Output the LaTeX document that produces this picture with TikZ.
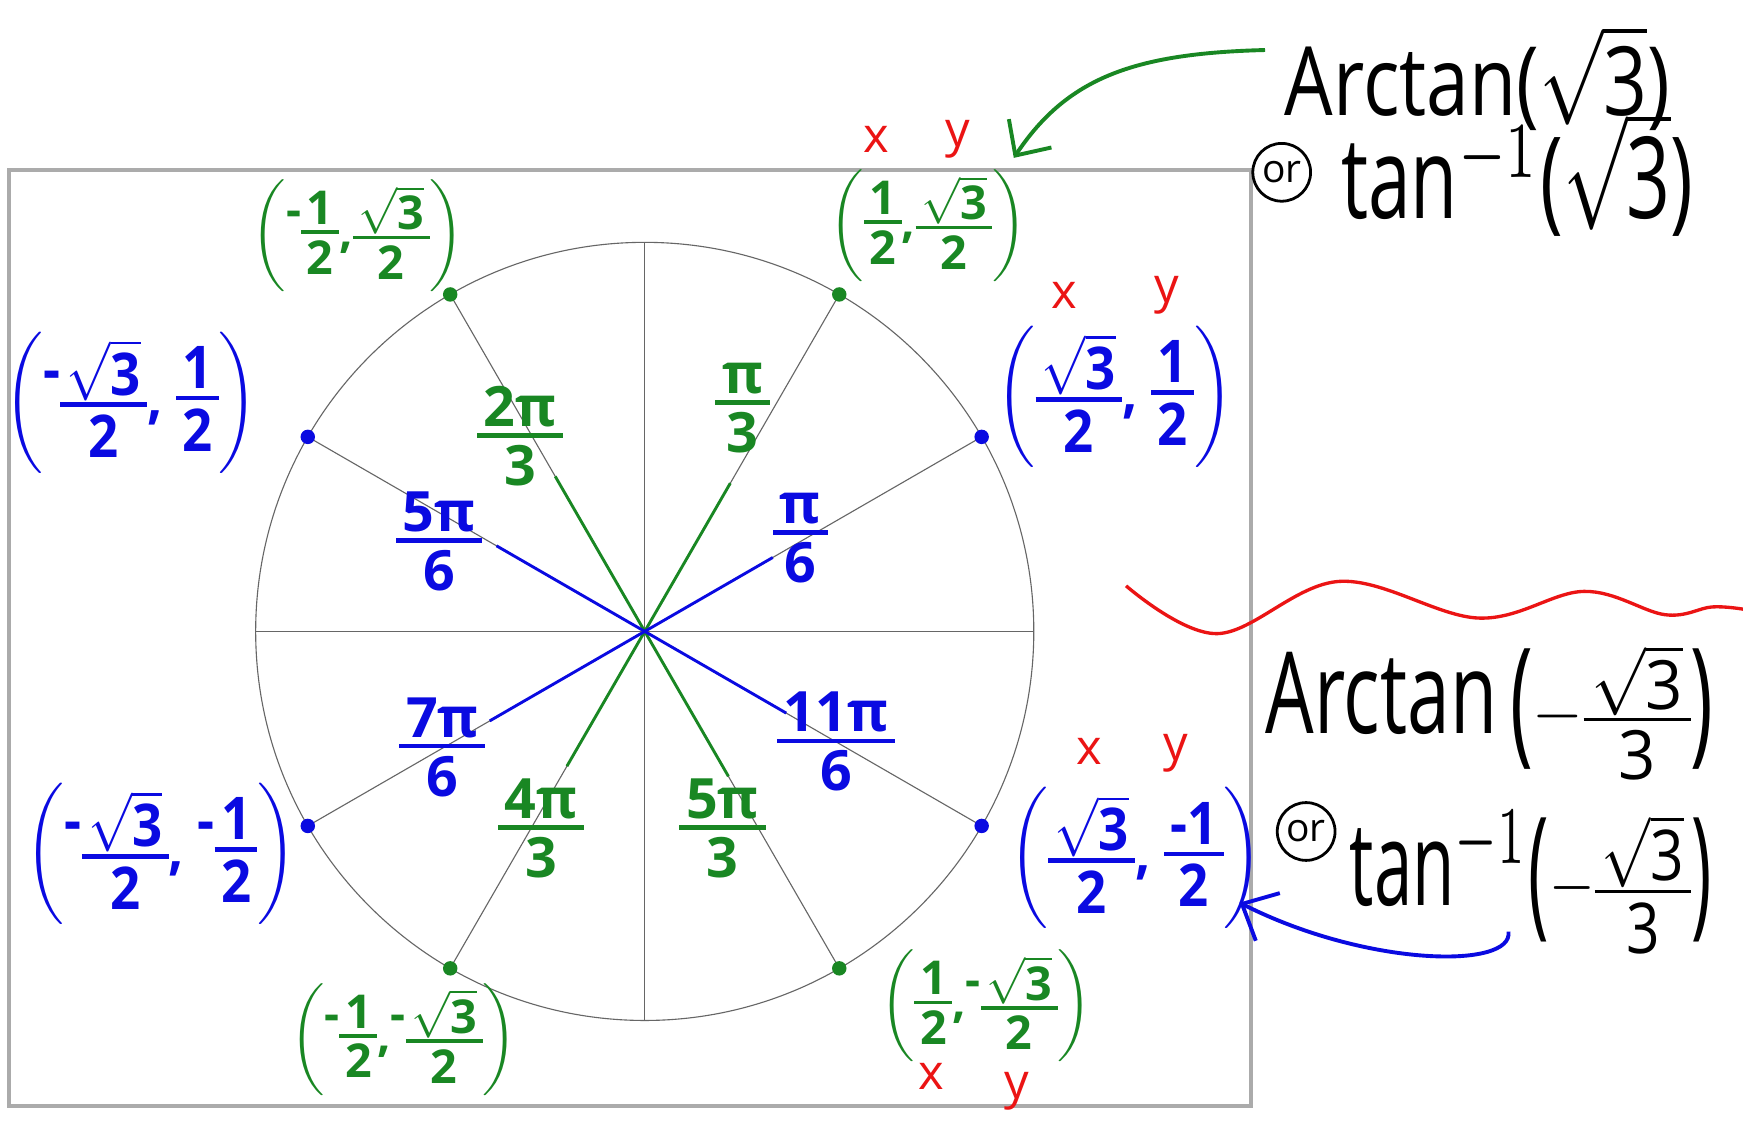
\documentclass[tikz,border=0pt]{standalone}
\usepackage{amsmath}
\usepackage{fontspec}
\setmainfont{Open Sans}
\usepackage{graphicx}
\usetikzlibrary{arrows.meta,calc}
\definecolor{hg}{RGB}{25,135,35}
\definecolor{hb}{RGB}{10,10,225}
\definecolor{hr}{RGB}{235,20,20}
\def\hfrw{0.8pt}
\newcommand\hf[2]{\vcenter{\hbox{\setlength\tabcolsep{1.2pt}\setlength\arrayrulewidth{\hfrw}\renewcommand\arraystretch{0.35}\begin{tabular}{c}#1\\\hline\rule{0pt}{8.6pt}#2\end{tabular}}}}
\newcommand\rt{$\sqrt{\mbox{3}}$}
\newcommand\mn{\raisebox{4.5pt}{-}}
\newcommand\lp{\raisebox{-1.2pt}{\scalebox{1}[1.22]{(}}}
\newcommand\rp{\raisebox{-1.2pt}{\scalebox{1}[1.22]{)}}}
\tikzset{
  ax/.style={draw=black!60, line width=1pt},
  frame/.style={draw=black!33, line width=3.5pt},
  gseg/.style={draw=hg, line width=2.6pt},
  bseg/.style={draw=hb, line width=2.6pt},
  angg/.style={text=hg, inner sep=0pt},
  angb/.style={text=hb, inner sep=0pt},
  crdg/.style={text=hg, inner sep=0pt},
  crdb/.style={text=hb, inner sep=0pt},
  xy/.style={text=hr, inner sep=0pt},
  big/.style={text=black, inner sep=0pt, anchor=base},
  orc/.style={draw=black, line width=2.5pt, circle, minimum size=52pt, inner sep=0pt},
}
\newcommand\AN[1]{\scalebox{5}{\bfseries #1}}
\newcommand\CG[1]{\scalebox{4.2}{\bfseries #1}}
\newcommand\CB[1]{\scalebox{4.75}[5.3]{\bfseries #1}}
\newcommand\XY[1]{\scalebox{4.4}{#1}}
\newcommand\BGa[1]{\scalebox{6.9}[10.2]{\def\hfrw{0.45pt}#1}}
\newcommand\BGt[1]{\scalebox{6.9}[8.6]{\def\hfrw{0.45pt}#1}}
\newcommand\BGb[1]{\scalebox{6.2}[10.5]{\def\hfrw{0.45pt}#1}}
\newcommand\fr{\scalebox{0.85}[0.6]{$-\hf{\rt}{3}$}}
\begin{document}
\begin{tikzpicture}[x=1pt,y=-1pt]
\useasboundingbox (0,0) rectangle (1568,1015);
\fill[white] (0,0) rectangle (1568,1015);

\coordinate (O) at (580,568);
\foreach \a in {0,30,...,330} \coordinate (p\a) at ({580+350*cos(\a)},{568-350*sin(\a)});

\draw[frame] (8,153) rectangle (1125,995);
\draw[ax] (O) circle[radius=350pt];
\draw[ax] (p0) -- (p180);
\draw[ax] (p90) -- (p270);
\foreach \a in {30,60,120,150,210,240,300,330} \draw[ax] (O) -- (p\a);

\foreach \a/\f in {60/0.44,120/0.46,240/0.40,300/0.43} \draw[gseg] (O) -- ($(O)!\f!(p\a)$);
\foreach \a/\f in {30/0.38,150/0.44,210/0.46,330/0.42} \draw[bseg] (O) -- ($(O)!\f!(p\a)$);

\foreach \a in {60,120,240,300} \fill[hg] (p\a) circle[radius=6.5pt];
\foreach \a in {30,150,210,330} \fill[hb] (p\a) circle[radius=6.5pt];

% angle labels
\node[angg] (a60)  at (668,370) {\AN{$\hf{π}{3}$}};
\node[angg] (a120) at (468,395) {\AN{$\hf{2π}{3}$}};
\node[angb] (a30)  at (720,487) {\AN{$\hf{π}{6}$}};
\node[angb] (a150) at (395,490) {\AN{$\hf{5π}{6}$}};
\node[angb] (a210) at (398,675) {\AN{$\hf{7π}{6}$}};
\node[angb] (a330) at (752,670) {\AN{$\hf{11π}{6}$}};
\node[angg] (a240) at (487,748) {\AN{$\hf{4π}{3}$}};
\node[angg] (a300) at (650,748) {\AN{$\hf{5π}{3}$}};

% coordinate labels
\node[crdg] (c60)  at (835,203) {\CG{$\left(\hf{1}{2}\mbox{,}\hf{\rt}{2}\right)$}};
\node[crdg] (c120) at (322,212) {\CG{$\left(\mn\hf{1}{2}\mbox{,}\hf{\rt}{2}\right)$}};
\node[crdb] (c150) at (118,362) {\CB{$\left(\mn\hf{\rt}{2}\mbox{, }\hf{1}{2}\right)$}};
\node[crdb] (c30)  at (1003,357) {\CB{$\left(\hf{\rt}{2}\mbox{, }\hf{1}{2}\right)$}};
\node[crdb] (c210) at (145,768) {\CB{$\left(\mn\hf{\rt}{2}\mbox{, }\mn\hf{1}{2}\right)$}};
\node[crdb] (c330) at (1022,772) {\CB{$\left(\hf{\rt}{2}\mbox{, }\hf{-1}{2}\right)$}};
\node[crdg] (c240) at (363,935) {\CG{$\left(\mn\hf{1}{2}\mbox{,}\mn\hf{\rt}{2}\right)$}};
\node[crdg] (c300) at (887,905) {\CG{$\left(\hf{1}{2}\mbox{,}\mn\hf{\rt}{2}\right)$}};

% red x y
\node[xy] (x1) at (788,125) {\XY{x}};
\node[xy] (y1) at (862,125) {\XY{y}};
\node[xy] (x2) at (957,266) {\XY{x}};
\node[xy] (y2) at (1050,266) {\XY{y}};
\node[xy] (x3) at (980,676) {\XY{x}};
\node[xy] (y3) at (1058,678) {\XY{y}};
\node[xy] (x4) at (838,968) {\XY{x}};
\node[xy] (y4) at (915,982) {\XY{y}};

% right-hand text
\node[big] (t1) at (1329,104) {\BGt{Arctan(\rt)}};
\node[orc] (or1) at (1153,155) {\scalebox{3.5}{or}};
\node[big] (t2) at (1365,197) {\BGa{tan$^{-1}$(\rt)}};
\node[big] (t3) at (1340,660) {\BGa{Arctan\,\lp\fr\rp}};
\node[orc] (or2) at (1175,748) {\scalebox{3.5}{or}};
\node[big] (t4) at (1377,815) {\BGb{tan$^{-1}$\lp\fr\rp}};

% red wave
\draw[hr, line width=3pt] plot[smooth, tension=0.6] coordinates {(1013,527) (1095,570) (1205,523) (1330,556) (1425,532) (1498,553) (1540,546) (1568,548)};

% arrows
\coordinate (gs) at (1138,45);
\coordinate (gt) at (912,142);
\draw[hg, line width=3.5pt, -{Straight Barb[length=24pt,width=46pt]}] (gs) .. controls (1020,48) and (960,70) .. (gt);
\coordinate (bs) at (1357,838);
\coordinate (bt) at (1115,812);
\draw[hb, line width=3.5pt, -{Straight Barb[length=26pt,width=48pt]}] (bs) .. controls (1362,872) and (1230,870) .. (bt);
\end{tikzpicture}
\end{document}
